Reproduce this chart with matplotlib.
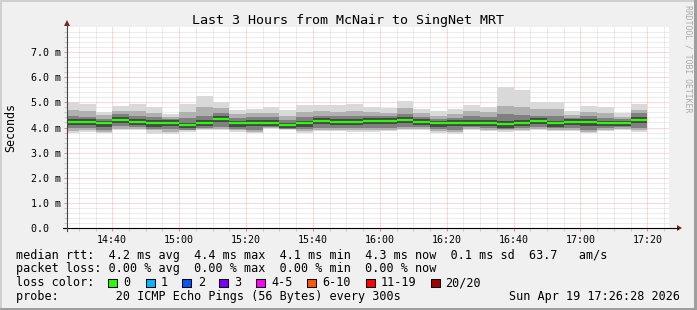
import matplotlib
matplotlib.use("Agg")
import matplotlib.pyplot as plt
from matplotlib.patches import Rectangle, Polygon
from matplotlib.lines import Line2D
import numpy as np

# ---------------- data (ms) ----------------
# bar k covers [25+5k, 30+5k] minutes after 14:00
bar_start_min = [25 + 5 * k for k in range(35)]
median = [4.22,4.22,4.16,4.31,4.22,4.16,4.19,4.08,4.18,4.35,4.16,4.19,4.19,4.08,4.16,4.27,4.22,4.22,
          4.27,4.27,4.31,4.22,4.16,4.19,4.19,4.16,4.12,4.19,4.27,4.16,4.22,4.22,4.16,4.16,4.31]
ping_max = [5.00,4.93,4.63,4.86,4.94,4.82,4.54,4.94,5.26,5.00,4.70,4.72,4.80,4.70,4.90,4.90,4.90,4.94,
            4.81,4.77,5.06,4.74,4.66,4.72,4.90,4.81,5.60,5.50,5.00,5.00,4.67,4.86,4.81,4.56,4.93]
ping_p90 = [4.70,4.65,4.50,4.66,4.66,4.57,4.42,4.62,4.82,4.76,4.52,4.56,4.57,4.47,4.62,4.66,4.63,4.66,
            4.61,4.59,4.77,4.56,4.47,4.52,4.66,4.61,4.85,4.82,4.72,4.72,4.51,4.61,4.56,4.42,4.71]
ping_p75 = [4.45,4.42,4.35,4.52,4.45,4.43,4.34,4.37,4.47,4.57,4.37,4.40,4.40,4.30,4.40,4.47,4.44,4.44,
            4.47,4.46,4.54,4.42,4.34,4.37,4.44,4.40,4.52,4.50,4.47,4.44,4.39,4.44,4.37,4.32,4.57]
ping_p60 = [4.33,4.32,4.27,4.42,4.32,4.28,4.29,4.19,4.30,4.46,4.27,4.30,4.30,4.19,4.27,4.38,4.33,4.33,
            4.38,4.38,4.42,4.33,4.27,4.30,4.31,4.28,4.26,4.31,4.38,4.27,4.33,4.33,4.27,4.26,4.43]
ping_p40 = [4.09,4.08,4.02,4.17,4.10,4.03,4.05,3.97,4.05,4.20,4.03,4.04,4.07,3.97,4.03,4.13,4.09,4.08,
            4.12,4.13,4.17,4.10,4.03,4.04,4.07,4.04,4.00,4.06,4.14,4.03,4.08,4.07,4.04,4.05,4.16]
ping_p25 = [3.98,3.99,3.92,4.05,4.02,3.95,3.93,3.92,4.00,4.03,3.95,3.92,4.02,3.96,3.94,4.00,4.00,3.97,
            3.98,4.00,4.03,4.02,3.93,3.90,4.03,3.98,3.95,3.99,4.03,3.97,3.99,3.92,3.98,4.01,3.98]
ping_p10 = [3.87,3.90,3.84,3.96,3.95,3.89,3.82,3.89,3.95,3.96,3.89,3.84,3.98,3.94,3.86,3.92,3.92,3.89,
            3.90,3.92,3.95,3.95,3.86,3.81,3.95,3.92,3.89,3.92,3.95,3.92,3.92,3.84,3.92,3.95,3.90]
ping_min = [3.80,3.84,3.78,3.90,3.90,3.75,3.75,3.84,3.90,3.90,3.84,3.78,3.93,3.90,3.80,3.87,3.87,3.84,
            3.84,3.87,3.90,3.90,3.80,3.75,3.90,3.87,3.84,3.87,3.90,3.87,3.87,3.78,3.87,3.90,3.84]

x_tick_min = [40, 60, 80, 100, 120, 140, 160, 180, 200]
x_tick_labels = ["14:40", "15:00", "15:20", "15:40", "16:00", "16:20", "16:40", "17:00", "17:20"]
y_ticks = [0, 1, 2, 3, 4, 5, 6, 7]
y_tick_labels = ["0.0  ", "1.0 m", "2.0 m", "3.0 m", "4.0 m", "5.0 m", "6.0 m", "7.0 m"]
x_start, x_end = 26 + 28 / 60, 206 + 28 / 60

title = "Last 3 Hours from McNair to SingNet MRT"
legend_lines = [
    "median rtt:  4.2 ms avg  4.4 ms max  4.1 ms min  4.3 ms now  0.1 ms sd  63.7   am/s",
    "packet loss: 0.00 % avg  0.00 % max  0.00 % min  0.00 % now",
]
loss_labels = ["0", "1", "2", "3", "4-5", "6-10", "11-19", "20/20"]
loss_colors = ["#26ff00", "#00b8ff", "#0059ff", "#7e00ff", "#ff00ff", "#ff5500", "#ff0000", "#a00000"]
probe_text = "probe:        20 ICMP Echo Pings (56 Bytes) every 300s"
date_text = "Sun Apr 19 17:26:28 2026"

# ---------------- figure ----------------
W, H = 697, 310
MONO = "DejaVu Sans Mono"
fig = plt.figure(figsize=(W / 100, H / 100), dpi=100, facecolor="#F0F0F0")

def fx(x):
    return x / W

def fy(y):
    return 1 - y / H

# 3D frame
fig.patches.append(Rectangle((0, fy(2)), 1, 2 / H, transform=fig.transFigure, color="#CFCFCF", lw=0))
fig.patches.append(Rectangle((0, 0), 2 / W, 1, transform=fig.transFigure, color="#CFCFCF", lw=0))
fig.patches.append(Rectangle((0, 0), 1, 2 / H, transform=fig.transFigure, color="#9E9E9E", lw=0))
fig.patches.append(Rectangle((fx(694), 0), 3 / W, 1, transform=fig.transFigure, color="#9E9E9E", lw=0))

L, R, T, B = 67, 669, 27, 228
ax = fig.add_axes([fx(L), fy(B), (R - L) / W, (B - T) / H])
ax.set_facecolor("white")
ax.set_xlim(x_start, x_end)
ax.set_ylim(0, 8)
for s in ax.spines.values():
    s.set_visible(False)

plt.rcParams["lines.scale_dashes"] = False
dot = (0, (0.72, 0.72))
minor_col = (0.73, 0.73, 0.73, 0.55)
major_col = (1.0, 0.36, 0.36, 0.45)
for yv in np.arange(0.2, 8.0, 0.2):
    if abs(yv - round(yv)) > 1e-6:
        ax.axhline(yv, color=minor_col, lw=0.72, ls=dot, zorder=0.5)
for xv in np.arange(30, 207, 5):
    if xv % 20 != 0:
        ax.axvline(xv, color=minor_col, lw=0.72, ls=dot, zorder=0.5)
for yv in y_ticks[1:]:
    ax.axhline(yv, color=major_col, lw=0.72, ls=dot, zorder=0.6)
for xv in x_tick_min:
    ax.axvline(xv, color=major_col, lw=0.72, ls=dot, zorder=0.6)

# smoke
layers = [
    (ping_min, ping_max, "#d9d9d9"),
    (ping_p10, ping_p90, "#b0b0b0"),
    (ping_p25, ping_p75, "#808080"),
    (ping_p40, ping_p60, "#474747"),
]
for lo, hi, col in layers:
    ax.bar(bar_start_min, np.array(hi) - np.array(lo), bottom=lo, width=5, align="edge",
           color=col, lw=0, zorder=2)

# median
ax.hlines(median, bar_start_min, np.array(bar_start_min) + 5, colors="#26ff00", lw=1.6, zorder=3)

# ticks
ax.set_xticks(x_tick_min)
ax.set_xticklabels(x_tick_labels, family=MONO, fontsize=7.2)
ax.set_xticks(np.arange(30, 207, 5), minor=True)
ax.set_yticks(y_ticks)
ax.set_yticklabels(y_tick_labels, family=MONO, fontsize=7.2)
ax.set_yticks(np.arange(0.2, 8.0, 0.2), minor=True)
ax.tick_params(axis="x", which="major", length=2.2, width=0.75, color="#ff8080", pad=2.6)
ax.tick_params(axis="x", which="minor", length=2.2, width=0.75, color="#c8c8c8")
ax.tick_params(axis="y", which="major", length=2.2, width=0.75, color="#ff8080", pad=2.2)
ax.tick_params(axis="y", which="minor", length=2.2, width=0.75, color="#c8c8c8")

# axis lines + arrows
fig.add_artist(Line2D([fx(63), fx(678)], [fy(228), fy(228)], color="black", lw=0.8))
fig.add_artist(Line2D([fx(67), fx(67)], [fy(231), fy(23)], color="#444444", lw=0.8))
fig.add_artist(Polygon([[fx(677), fy(225)], [fx(682), fy(228)], [fx(677), fy(231)]],
                       closed=True, transform=fig.transFigure, color="#7F1F1F", lw=0))
fig.add_artist(Polygon([[fx(64), fy(26)], [fx(67), fy(20)], [fx(70), fy(26)]],
                       closed=True, transform=fig.transFigure, color="#7F1F1F", lw=0))

# texts
fig.text(fx(348.5), fy(24), title, family=MONO, fontsize=9.6, ha="center", va="baseline")
fig.text(fx(11), fy(127), "Seconds", family=MONO, fontsize=8.4, rotation=90, ha="center", va="center")
fig.text(fx(688), fy(59), "RRDTOOL / TOBI OETIKER", family=MONO, fontsize=5.9, rotation=270,
         ha="center", va="center", color="#aaaaaa")

fig.text(fx(16), fy(258.5), legend_lines[0], family=MONO, fontsize=8.5, va="baseline")
fig.text(fx(16), fy(272), legend_lines[1], family=MONO, fontsize=8.5, va="baseline")
fig.text(fx(16), fy(286), "loss color:", family=MONO, fontsize=8.5, va="baseline")
box_x = [108, 146, 182, 219, 256, 307, 366, 431]
lab_x = [123, 161, 198, 234, 271, 322, 381, 445]
for bx, lx, lab, col in zip(box_x, lab_x, loss_labels, loss_colors):
    fig.patches.append(Rectangle((fx(bx), fy(287)), 8.5 / W, 8.5 / H, transform=fig.transFigure,
                                 facecolor=col, edgecolor="black", lw=0.75))
    fig.text(fx(lx), fy(286), lab, family=MONO, fontsize=8.5, va="baseline")
fig.text(fx(16), fy(300), probe_text, family=MONO, fontsize=8.5, va="baseline")
fig.text(fx(680), fy(300), date_text, family=MONO, fontsize=8.5, va="baseline", ha="right")

fig.savefig("out.png", dpi=100, facecolor=fig.get_facecolor())
